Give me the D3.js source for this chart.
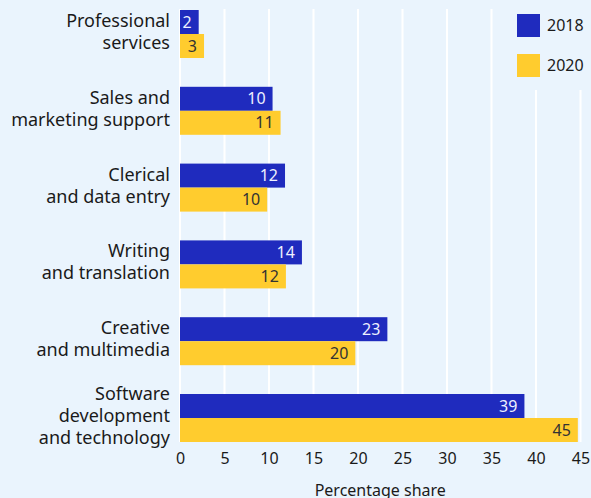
<!DOCTYPE html>
<html>
<head>
<meta charset="utf-8">
<script src="https://cdn.jsdelivr.net/npm/d3@7"></script>
<style>
  html, body { margin: 0; padding: 0; background: #eaf4fd; }
  svg { display: block; font-family: "Noto Sans", sans-serif; }
</style>
</head>
<body>
<svg id="chart"></svg>
<script>
// categories, top to bottom (line breaks as in the picture)
const categories = [
    "Professional\nservices",
    "Sales and\nmarketing support",
    "Clerical\nand data entry",
    "Writing\nand translation",
    "Creative\nand multimedia",
    "Software\ndevelopment\nand technology"
];
const series = ["2018", "2020"];
const values2018 = [2.1, 10.4, 11.8, 13.7, 23.3, 38.7];
const values2020 = [2.7, 11.3, 9.8, 11.9, 19.7, 44.7];
const xTicks = [0, 5, 10, 15, 20, 25, 30, 35, 40, 45];

const width = 591;
const height = 498;
const bg = "#eaf4fd";
const colors = {"2018": "#1f2bbe", "2020": "#ffcc2e"};
const labelColors = {"2018": "#eef0ff", "2020": "#333333"};

const data = categories.map((c, i) => ({
    name: c,
    values: [{key: "2018", value: values2018[i]}, {key: "2020", value: values2020[i]}]
}));

const svg = d3.select("#chart")
    .attr("width", width)
    .attr("height", height);

svg.append("rect")
    .attr("width", width)
    .attr("height", height)
    .attr("fill", bg);

const x = d3.scaleLinear().domain([0, 45]).range([180, 580.5]);

const y = d3.scaleBand()
    .domain(categories)
    .range([-4.4, 456.4])
    .paddingInner(0.375)
    .paddingOuter(0.1875);

const ySub = d3.scaleBand().domain(series).range([0, y.bandwidth()]);

const gridTop = y(categories[0]) - 1;
const gridBottom = y(categories[categories.length - 1]) + y.bandwidth();

// gridlines
svg.append("g")
    .selectAll("line")
    .data(xTicks)
    .join("line")
    .attr("x1", d => x(d))
    .attr("x2", d => x(d))
    .attr("y1", gridTop)
    .attr("y2", gridBottom)
    .attr("stroke", "#ffffff")
    .attr("stroke-width", 2);

// bars
const groups = svg.append("g")
    .selectAll("g")
    .data(data)
    .join("g")
    .attr("transform", d => `translate(0,${y(d.name)})`);

groups.selectAll("rect")
    .data(d => d.values)
    .join("rect")
    .attr("x", x(0))
    .attr("y", d => ySub(d.key))
    .attr("width", d => x(d.value) - x(0))
    .attr("height", ySub.bandwidth())
    .attr("fill", d => colors[d.key]);

groups.selectAll("text")
    .data(d => d.values)
    .join("text")
    .attr("x", d => x(d.value) - 7)
    .attr("y", d => ySub(d.key) + ySub.bandwidth() / 2)
    .attr("dy", "0.35em")
    .attr("text-anchor", "end")
    .attr("font-size", 16)
    .attr("fill", d => labelColors[d.key])
    .text(d => d3.format(".0f")(d.value));

// category labels
svg.append("g")
    .selectAll("text")
    .data(categories)
    .join("text")
    .attr("text-anchor", "end")
    .attr("font-size", 18)
    .attr("fill", "#1a1a1a")
    .attr("transform", d => `translate(170,${y(d) + y.bandwidth() / 2})`)
    .selectAll("tspan")
    .data(d => {
        const lines = d.split("\n");
        return lines.map((l, i) => ({text: l, offset: i - (lines.length - 1) / 2}));
    })
    .join("tspan")
    .attr("x", 0)
    .attr("y", d => d.offset * 22)
    .attr("dy", "0.22em")
    .text(d => d.text);

// x axis
const xAxis = svg.append("g")
    .attr("transform", `translate(0,${gridBottom})`)
    .call(d3.axisBottom(x).tickValues(xTicks).tickSize(0).tickPadding(11));
xAxis.select(".domain").remove();
xAxis.selectAll("text")
    .attr("font-family", "Noto Sans, sans-serif")
    .attr("font-size", 16)
    .attr("fill", "#1a1a1a");

svg.append("text")
    .attr("x", (x(0) + x(45)) / 2)
    .attr("y", 496)
    .attr("text-anchor", "middle")
    .attr("font-size", 16)
    .attr("fill", "#1a1a1a")
    .text("Percentage share");

// legend
const legend = svg.append("g");
legend.append("rect")
    .attr("x", 505)
    .attr("y", 0)
    .attr("width", width - 505)
    .attr("height", 90)
    .attr("fill", bg);

const legendItems = legend.selectAll("g")
    .data(series)
    .join("g")
    .attr("transform", (d, i) => `translate(517,${14 + i * 40})`);

legendItems.append("rect")
    .attr("width", 23)
    .attr("height", 23)
    .attr("fill", d => colors[d]);

legendItems.append("text")
    .attr("x", 30)
    .attr("y", 11.5)
    .attr("dy", "0.35em")
    .attr("font-size", 16)
    .attr("fill", "#1a1a1a")
    .text(d => d);
</script>
</body>
</html>
